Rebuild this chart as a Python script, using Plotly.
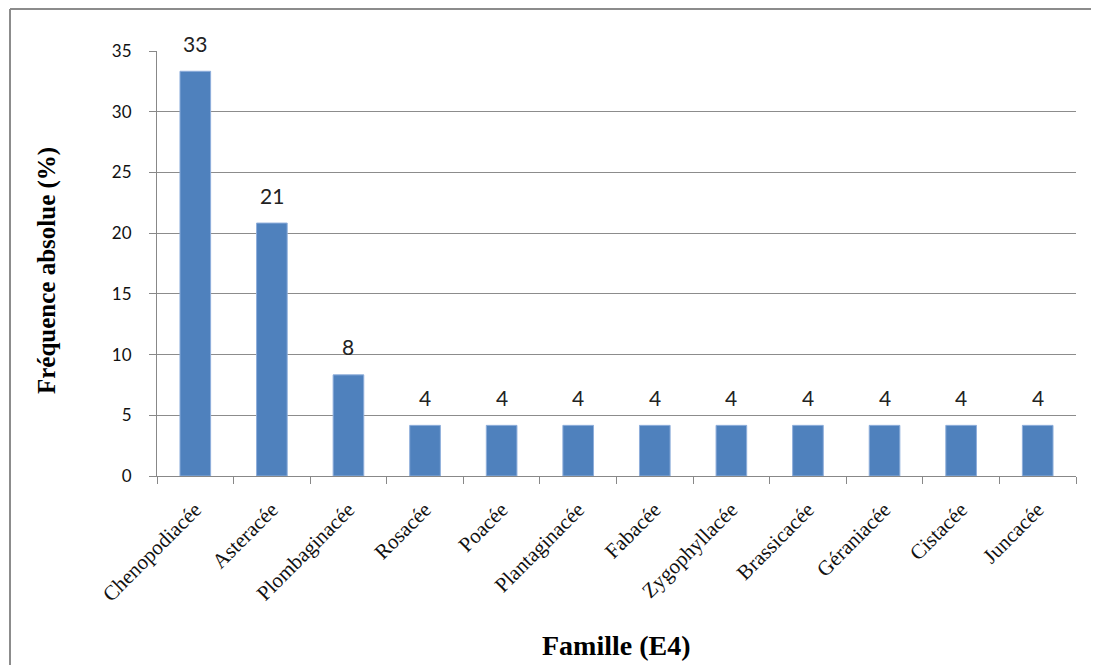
import plotly.graph_objects as go

familles = ["Chenopodiacée", "Asteracée", "Plombaginacée", "Rosacée", "Poacée",
            "Plantaginacée", "Fabacée", "Zygophyllacée", "Brassicacée", "Géraniacée",
            "Cistacée", "Juncacée"]
frequences = [33.33, 20.83, 8.33, 4.17, 4.17, 4.17, 4.17, 4.17, 4.17, 4.17, 4.17, 4.17]
etiquettes = ["33", "21", "8", "4", "4", "4", "4", "4", "4", "4", "4", "4"]
y_ticks = [0, 5, 10, 15, 20, 25, 30, 35]

fig = go.Figure()
fig.add_trace(go.Bar(
    x=familles, y=frequences,
    marker=dict(color="#4f81bd", line=dict(color="#8eaedb", width=1)),
    width=0.4,
    cliponaxis=False,
    hoverinfo="x+y",
))

for f, v, t in zip(familles, frequences, etiquettes):
    fig.add_annotation(x=f, y=v, text=t, showarrow=False, yanchor="middle",
                       yshift=28, font=dict(family="Lato", size=21, color="#222"))

# axis titles
fig.add_annotation(xref="paper", yref="paper", x=0.5005, y=-0.398,
                   text="<b>Famille (E4)</b>", showarrow=False,
                   xanchor="center", yanchor="middle",
                   font=dict(family="Liberation Serif", size=28, color="#000"))
fig.add_annotation(xref="paper", yref="paper", x=-0.1197, y=0.4847,
                   text="<b>Fréquence absolue (%)</b>", showarrow=False, textangle=-90,
                   xanchor="center", yanchor="middle",
                   font=dict(family="Liberation Serif", size=25, color="#000"))

fig.update_layout(
    width=1091, height=657,
    margin=dict(l=149, r=23, t=43, b=189),
    paper_bgcolor="white", plot_bgcolor="white",
    showlegend=False,
    xaxis=dict(
        tickangle=-45, automargin=False,
        tickfont=dict(family="Liberation Serif", size=21, color="#111"),
        showline=True, linecolor="#888", linewidth=1,
        ticks="outside", tickson="boundaries", ticklen=7, tickcolor="#888",
        ticklabelstandoff=12,
        showgrid=False,
    ),
    yaxis=dict(
        range=[0, 35], tickvals=y_ticks, automargin=False,
        tickfont=dict(family="Lato", size=17, color="#111"),
        showline=True, linecolor="#888", linewidth=1,
        ticks="outside", ticklen=7, tickcolor="#888",
        ticklabelstandoff=14,
        showgrid=True, gridcolor="#8c8c8c", gridwidth=1,
        zeroline=False,
    ),
)

# outer chart-area border (top and left edges visible in the reference)
bx0 = (2 - 149) / 919
by1 = 1 + 42 / 425
fig.add_shape(type="line", xref="paper", yref="paper",
              x0=bx0, x1=1.6, y0=by1, y1=by1,
              line=dict(color="#8c8c8c", width=2), layer="below")
fig.add_shape(type="line", xref="paper", yref="paper",
              x0=bx0, x1=bx0, y0=-0.8, y1=by1,
              line=dict(color="#8c8c8c", width=2), layer="below")

fig.write_html("out.html")
